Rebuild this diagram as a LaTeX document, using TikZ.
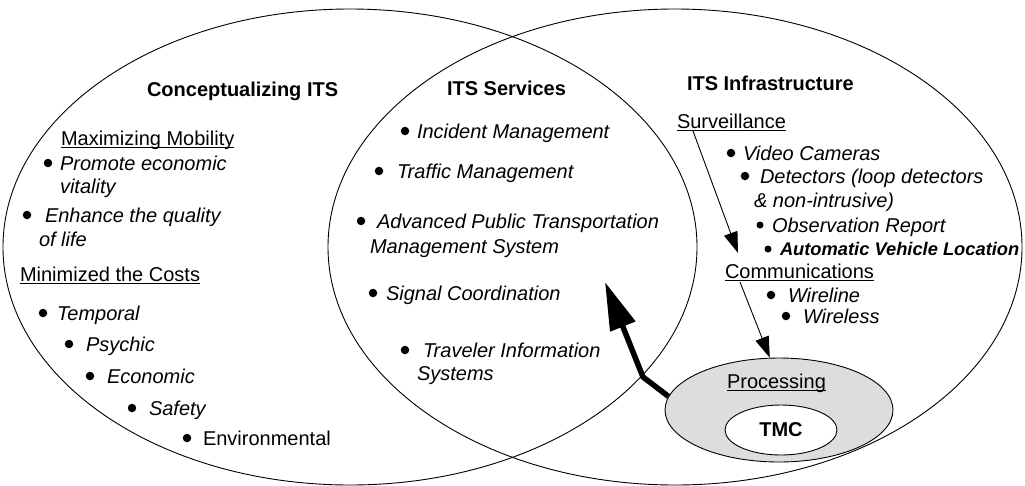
\documentclass[tikz,border=0pt]{standalone}
\usepackage{fontspec}
\setmainfont{Liberation Sans}
\usetikzlibrary{shapes.geometric,arrows.meta}
\definecolor{procgray}{RGB}{221,221,221}
\newcommand\myul[1]{\setbox0\hbox{#1}\rlap{\vrule width\wd0 height -2.0pt depth 3.2pt}\box0}
\begin{document}
\begin{tikzpicture}[x=1pt,y=-1pt,
  txt/.style={anchor=base west,inner sep=0pt,outer sep=0pt,font=\fontsize{20pt}{24pt}\selectfont},
  itx/.style={txt,font=\fontsize{20pt}{24pt}\selectfont\itshape},
  hd/.style={txt,font=\fontsize{20pt}{24pt}\selectfont\bfseries},
  avl/.style={txt,font=\fontsize{18.3pt}{22pt}\selectfont\bfseries\itshape},
  dot/.style={circle,fill=black,inner sep=0pt,minimum size=8.5pt},
  venn/.style={draw=black,line width=0.9pt},
  thinarrow/.style={draw=black,line width=0.9pt,-{Triangle[length=21pt,width=14pt]}},
  thickarrow/.style={draw=black,line width=5.5pt,-{Triangle[length=48pt,width=26pt]}},
  procshape/.style={ellipse,draw=black,line width=0.9pt,fill=procgray,minimum width=228pt,minimum height=104pt,inner sep=0pt},
  tmcshape/.style={ellipse,draw=black,line width=0.9pt,fill=white,minimum width=112pt,minimum height=50pt,inner sep=0pt,font=\fontsize{20pt}{24pt}\selectfont\bfseries}
]
\useasboundingbox (0,0) rectangle (1025,485);
\fill[white] (0,0) rectangle (1025,485);
% Venn ellipses
\draw[venn] (350,247) ellipse [x radius=347pt, y radius=238pt];
\draw[venn] (675,247) ellipse [x radius=347pt, y radius=238pt];

% Left: Conceptualizing ITS
\node[hd] (t1) at (147,96) {Conceptualizing ITS};
\node[txt] (mm) at (61,145) {\myul{Maximizing Mobility}};
\node[dot] (b1) at (48,163) {};
\node[itx] (pe) at (60,170) {Promote economic};
\node[itx] (vi) at (60,193) {vitality};
\node[dot] (b2) at (27,215) {};
\node[itx] (eq) at (45,222) {Enhance the quality};
\node[itx] (ol) at (39,246) {of life};
\node[txt] (mc) at (20,281) {\myul{Minimized the Costs}};
\node[dot] (b3) at (43,313) {};
\node[itx] (tp) at (57,320) {Temporal};
\node[dot] (b4) at (69,344) {};
\node[itx] (ps) at (86,351) {Psychic};
\node[dot] (b5) at (90,376) {};
\node[itx] (ec) at (107,383) {Economic};
\node[dot] (b6) at (132,408) {};
\node[itx] (sf) at (149,415) {Safety};
\node[dot] (b7) at (187,438) {};
\node[txt] (en) at (203,445) {Environmental};

% Middle: ITS Services
\node[hd] (t2) at (447,95) {ITS Services};
\node[dot] (b8) at (405,131) {};
\node[itx] (im) at (417,138) {Incident Management};
\node[dot] (b9) at (379,171) {};
\node[itx] (tm) at (397,178) {Traffic Management};
\node[dot] (b10) at (361,221) {};
\node[itx] (ap) at (377,228) {Advanced Public Transportation};
\node[itx] (ms) at (370,253) {Management System};
\node[dot] (b11) at (373,293) {};
\node[itx] (sc) at (386,300) {Signal Coordination};
\node[dot] (b12) at (405,350) {};
\node[itx] (ti) at (423,357) {Traveler Information};
\node[itx] (sy) at (417,380) {Systems};

% Right: ITS Infrastructure
\node[hd] (t3) at (687,90) {ITS Infrastructure};
\node[txt] (sv) at (677,128) {\myul{Surveillance}};
\node[dot] (b13) at (731,153) {};
\node[itx] (vc) at (743,160) {Video Cameras};
\node[dot] (b14) at (745,176) {};
\node[itx] (de) at (760,183) {Detectors (loop detectors};
\node[itx] (ni) at (754,207) {\& non-intrusive)};
\node[dot,minimum size=7pt] (b15) at (760,225) {};
\node[itx] (ob) at (772,232) {Observation Report};
\node[dot,minimum size=7pt] (b16) at (768,249) {};
\node[avl] (av) at (780,255) {Automatic Vehicle Location};
\node[txt] (cm) at (725,278) {\myul{Communications}};
\node[dot] (b17) at (771,295) {};
\node[itx] (wl) at (788,302) {Wireline};
\node[dot] (b18) at (786,316) {};
\node[itx] (ws) at (803,323) {Wireless};

% Processing / TMC
\node[procshape] (proc) at (779,410) {};
\node[txt] (pr) at (727,388) {\myul{Processing}};
\node[tmcshape] (tmc) at (781,430) {TMC};

% Arrows
\coordinate (s0) at (693,131);
\coordinate (s1) at (738,253);
\draw[thinarrow] (s0) -- (s1);
\coordinate (c0) at (740,282);
\draw[thinarrow] (c0) -- (proc.100);
\coordinate (bend) at (643,377);
\coordinate (tip) at (605,282);
\draw[thickarrow] (proc.173) -- (bend) -- (tip);
\end{tikzpicture}
\end{document}
